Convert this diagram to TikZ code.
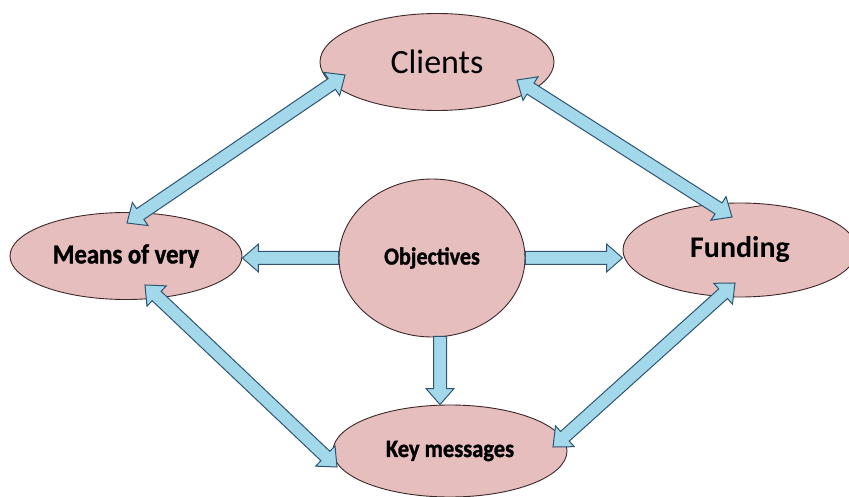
\documentclass[tikz,border=0pt]{standalone}
\usepackage{fontspec}
\setmainfont{Carlito}
\newfontfamily\heavy{Carlito}[BoldFeatures={FakeBold=1.2,FakeStretch=0.9}]
\usetikzlibrary{calc,shapes.geometric}

\definecolor{bubblefill}{RGB}{231,190,190}
\definecolor{bubbleline}{RGB}{60,40,40}
\definecolor{arrowfill}{RGB}{163,216,234}
\definecolor{arrowline}{RGB}{45,85,115}

\newcommand{\fashaft}{6.5pt}
\newcommand{\fahead}{14pt}
\newcommand{\falen}{16pt}

% fat arrow from #1 to #2
\newcommand{\onearrow}[2]{%
  \draw[fat] ($(#1)!\fashaft!90:(#2)$) -- ($(#2)!\falen!(#1)!\fashaft!-90:(#1)$)
    -- ($(#2)!\falen!(#1)!\fahead!-90:(#1)$) -- (#2)
    -- ($(#2)!\falen!(#1)!\fahead!90:(#1)$) -- ($(#2)!\falen!(#1)!\fashaft!90:(#1)$)
    -- ($(#1)!\fashaft!-90:(#2)$) -- cycle;}

% fat arrow with a head at both ends
\newcommand{\twoarrow}[2]{%
  \draw[fat] (#1) -- ($(#1)!\falen!(#2)!\fahead!90:(#2)$) -- ($(#1)!\falen!(#2)!\fashaft!90:(#2)$)
    -- ($(#2)!\falen!(#1)!\fashaft!-90:(#1)$) -- ($(#2)!\falen!(#1)!\fahead!-90:(#1)$) -- (#2)
    -- ($(#2)!\falen!(#1)!\fahead!90:(#1)$) -- ($(#2)!\falen!(#1)!\fashaft!90:(#1)$)
    -- ($(#1)!\falen!(#2)!\fashaft!-90:(#2)$) -- ($(#1)!\falen!(#2)!\fahead!-90:(#2)$) -- cycle;}

\begin{document}
\begin{tikzpicture}[
  x=1pt,y=-1pt,
  bubble/.style={
      ellipse,
      draw=bubbleline,
      line width=0.9pt,
      fill=bubblefill,
      inner sep=0pt
  },
  fat/.style={
      draw=arrowline,
      fill=arrowfill,
      line width=1pt,
      line join=miter
  },
  big/.style={font=\fontsize{34}{36}\selectfont},
  bigb/.style={font=\bfseries\fontsize{30}{32}\selectfont},
  small/.style={font=\heavy\bfseries\fontsize{#1}{28}\selectfont}
]
\useasboundingbox (0,0) rectangle (849,497);

\node[bubble, big, minimum width=234pt, minimum height=97pt] (clients) at (437,62) {Clients};
\node[bubble, small=27.5, minimum width=232pt, minimum height=87pt] (means) at (126,256) {Means of very};
\node[bubble, small=24.5, minimum width=186pt, minimum height=158pt] (objectives) at (432,258) {Objectives};
\node[bubble, bigb, minimum width=234pt, minimum height=94pt] (funding) at (740,250) {Funding};
\node[bubble, small=25, minimum width=234pt, minimum height=92pt] (key) at (450,451) {Key messages};

% arrow tips
\coordinate (cl-me) at ($(clients)+(-92,13)$);
\coordinate (me-cl) at ($(means)+(1,-33)$);
\coordinate (cl-fu) at ($(clients)+(80,18)$);
\coordinate (fu-cl) at ($(funding)+(-8,-33)$);
\coordinate (me-ke) at ($(means)+(19,29)$);
\coordinate (ke-me) at ($(key)+(-113,16)$);
\coordinate (fu-ke) at ($(funding)+(-5,33)$);
\coordinate (ke-fu) at ($(key)+(103,-4)$);

\coordinate (ob-me) at (means.east |- objectives.west);
\coordinate (ob-fu) at (funding.west |- objectives.east);
\coordinate (ob-s) at ($(objectives.south)+(8,-1)$);
\coordinate (ob-ke) at (ob-s |- key.north);

\twoarrow{me-cl}{cl-me}
\twoarrow{cl-fu}{fu-cl}
\twoarrow{me-ke}{ke-me}
\twoarrow{ke-fu}{fu-ke}

\onearrow{objectives.west}{ob-me}
\onearrow{objectives.east}{ob-fu}
\onearrow{ob-s}{ob-ke}

\end{tikzpicture}
\end{document}
